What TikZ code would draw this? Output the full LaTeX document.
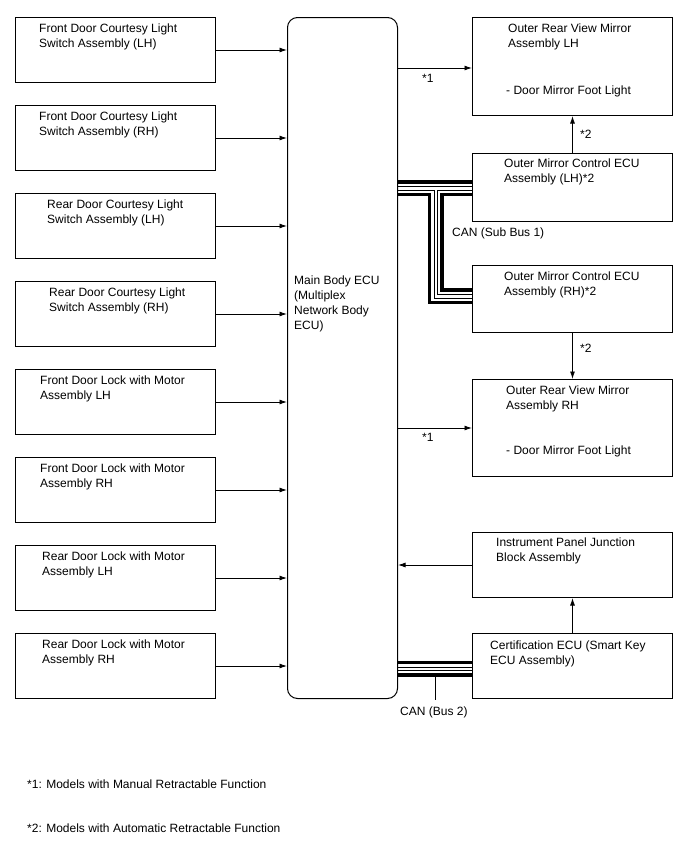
\documentclass[tikz,border=0pt]{standalone}
\usepackage{fontspec}
\setmainfont{Liberation Sans}
\usetikzlibrary{arrows.meta}
\begin{document}
\begin{tikzpicture}[x=1pt,y=-1pt,
 box/.style={draw, line width=1pt, minimum width=200pt, anchor=north west, inner sep=0pt},
 txt/.style={anchor=north west, inner sep=0pt, align=left, font=\fontsize{12}{15}\selectfont},
 arr/.style={line width=0.9pt, -{Latex[length=7.5pt,width=5pt]}},
 thk/.style={line width=3.2pt, line join=miter},
 thn/.style={line width=1pt, line join=miter}]
\useasboundingbox (0,0) rectangle (688,852);
% main ECU
\node[draw, line width=1pt, rounded corners=10pt, minimum width=110pt, minimum height=681pt, anchor=north west, inner sep=0pt] (ecu) at (287,17) {};
\node[txt] (ecut) at (294,275.4) {Main Body ECU\\(Multiplex\\Network Body\\ECU)};
% left boxes
\node[box, minimum height=65pt] (l1) at (15,17) {};
\node[box, minimum height=65pt] (l2) at (15,105) {};
\node[box, minimum height=65pt] (l3) at (15,193) {};
\node[box, minimum height=65pt] (l4) at (15,281) {};
\node[box, minimum height=65pt] (l5) at (15,369) {};
\node[box, minimum height=65pt] (l6) at (15,457) {};
\node[box, minimum height=65pt] (l7) at (15,545) {};
\node[box, minimum height=65pt] (l8) at (15,633) {};
\node[txt] (t1) at (39,23.4) {Front Door Courtesy Light\\Switch Assembly (LH)};
\node[txt] (t2) at (39,111.4) {Front Door Courtesy Light\\Switch Assembly (RH)};
\node[txt] (t3) at (47,199.4) {Rear Door Courtesy Light\\Switch Assembly (LH)};
\node[txt] (t4) at (49,287.4) {Rear Door Courtesy Light\\Switch Assembly (RH)};
\node[txt] (t5) at (40,375.4) {Front Door Lock with Motor\\Assembly LH};
\node[txt] (t6) at (40,463.4) {Front Door Lock with Motor\\Assembly RH};
\node[txt] (t7) at (42,551.4) {Rear Door Lock with Motor\\Assembly LH};
\node[txt] (t8) at (42,639.4) {Rear Door Lock with Motor\\Assembly RH};
\foreach \i in {1,...,8} {\draw[arr] (l\i.east) -- (l\i.east -| ecu.west);}
% right boxes
\node[box, minimum height=98pt] (mirL) at (472,17) {};
\node[box, minimum height=68pt] (ecuL) at (472,153) {};
\node[box, minimum height=67pt] (ecuR) at (472,265) {};
\node[box, minimum height=97pt] (mirR) at (472,379) {};
\node[box, minimum height=65pt] (ipjb) at (472,532) {};
\node[box, minimum height=65pt] (cert) at (472,633) {};
\node[txt] (tm1) at (508,23.4) {Outer Rear View Mirror\\Assembly LH};
\node[txt] (tm1b) at (506,85.4) {- Door Mirror Foot Light};
\node[txt] (te1) at (504,158.4) {Outer Mirror Control ECU\\Assembly (LH)*2};
\node[txt] (te2) at (504,271.4) {Outer Mirror Control ECU\\Assembly (RH)*2};
\node[txt] (tm2) at (506,385.4) {Outer Rear View Mirror\\Assembly RH};
\node[txt] (tm2b) at (506,445.4) {- Door Mirror Foot Light};
\node[txt] (tip) at (496,537.4) {Instrument Panel Junction\\Block Assembly};
\node[txt] (tc) at (490,640.4) {Certification ECU (Smart Key\\ECU Assembly)};
% arrows right side
\draw[arr] (ecu.east |- 0,68) -- (mirL.west |- 0,68);
\node[txt] (s1a) at (422,74.4) {*1};
\draw[arr] (ecu.east |- 0,428) -- (mirR.west |- 0,428);
\node[txt] (s1b) at (422,433.4) {*1};
\draw[arr] (ecuL.north) -- (mirL.south);
\node[txt] (s2a) at (580,130.4) {*2};
\draw[arr] (ecuR.south) -- (mirR.north);
\node[txt] (s2b) at (580,344.4) {*2};
\draw[arr] (cert.north) -- (ipjb.south);
\draw[arr] (ipjb.west) -- (ipjb.west -| ecu.east);
% CAN sub bus 1
\draw[thk] (ecu.east |- 0,182) -- (ecuL.west |- 0,182);
\draw[thn] (ecu.east |- 0,186.5) -- (ecuL.west |- 0,186.5);
\draw[thn] (ecu.east |- 0,190) -- (434,190) -- (434,298) -- (ecuR.west |- 0,298);
\draw[thk] (ecu.east |- 0,194.5) -- (429.5,194.5) -- (429.5,302.5) -- (ecuR.west |- 0,302.5);
\draw[thn] (ecuL.west |- 0,190) -- (437.5,190) -- (437.5,294.5) -- (ecuR.west |- 0,294.5);
\draw[thk] (ecuL.west |- 0,194.5) -- (442,194.5) -- (442,290) -- (ecuR.west |- 0,290);
\node[txt] (can1) at (452,227.4) {CAN (Sub Bus 1)};
% CAN bus 2
\draw[thk] (ecu.east |- 0,662.5) -- (cert.west |- 0,662.5);
\draw[thn] (ecu.east |- 0,667) -- (cert.west |- 0,667);
\draw[thn] (ecu.east |- 0,670.5) -- (cert.west |- 0,670.5);
\draw[thk] (ecu.east |- 0,675) -- (cert.west |- 0,675);
\coordinate (b2) at (435,700);
\draw[thn] (435,676) -- (b2);
\node[txt] (can2) at (400,706.4) {CAN (Bus 2)};
% footnotes
\node[txt] (f1) at (27,779.4) {*1: Models with Manual Retractable Function};
\node[txt] (f2) at (27,823.4) {*2: Models with Automatic Retractable Function};
\end{tikzpicture}
\end{document}
